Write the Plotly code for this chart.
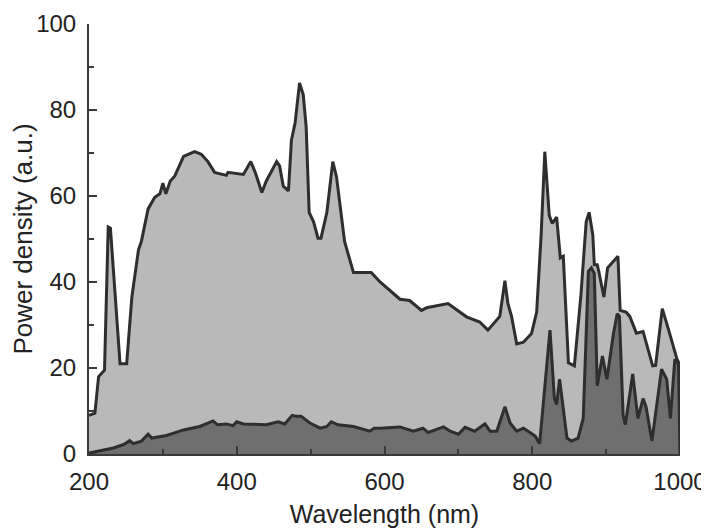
import plotly.graph_objects as go

# Upper (total) spectrum
wl_upper = [200, 208, 213, 221, 226, 229, 235, 242, 251, 258, 267, 271, 280, 289, 296, 300,
            304, 310, 316, 328, 343, 352, 361, 370, 386, 388, 409, 419, 425, 434, 440, 454,
            458, 463, 470, 474, 479, 485, 490, 494, 498, 504, 510, 514, 522, 530, 535, 546,
            558, 582, 594, 621, 634, 650, 657, 686, 711, 729, 740, 749, 756, 763, 767, 772,
            779, 788, 799, 806, 812, 817, 823, 827, 833, 838, 842, 849, 857, 866, 873, 877,
            882, 884, 888, 890, 897, 902, 916, 919, 927, 932, 941, 950, 963, 967, 976, 984,
            991, 996, 999, 1000]
pd_upper = [9, 9.5, 18, 19.5, 52.8, 52.5, 38, 21, 21, 36.5, 47.5, 49.5, 57, 59.7, 60.5, 63,
            60.5, 63.5, 64.6, 69.2, 70.3, 69.7, 68, 65.5, 64.8, 65.5, 65, 68, 65.5, 60.8, 63.5, 68,
            67, 62.3, 61.2, 73, 77, 86.3, 83.6, 76, 56.2, 54, 50.2, 50.2, 56.2, 68, 64.5, 49.4,
            42.2, 42.2, 40, 36, 35.7, 33.4, 34, 35, 31.9, 30.7, 28.8, 30.7, 32, 40.3, 35, 32,
            25.6, 26, 28, 33, 50.9, 70.3, 55.5, 53.6, 55.1, 45.6, 46, 21.2, 20.5, 37.2, 54, 56.2,
            50.9, 44, 44, 42.5, 36.5, 43.3, 46, 33.4, 33, 32, 28.1, 28.5, 20.5, 20.6, 33.8, 29.2,
            25, 22, 21, 0]

# Lower (dark) spectrum
wl_lower = [200, 233, 247, 255, 260, 271, 280, 285, 305, 328, 350, 368, 374, 386, 395, 400,
            409, 440, 456, 465, 475, 480, 487, 499, 513, 522, 528, 537, 558, 580, 586, 594,
            621, 639, 652, 659, 680, 689, 700, 709, 722, 736, 743, 752, 763, 770, 779, 788,
            797, 804, 810, 817, 824, 830, 833, 837, 847, 853, 862, 869, 876, 880, 884, 888,
            895, 901, 910, 915, 918, 923, 926, 936, 943, 950, 954, 962, 975, 982, 987, 993,
            998, 1000]
pd_lower = [0.2, 1.4, 2.2, 3.1, 2.4, 3, 4.6, 3.7, 4.3, 5.6, 6.4, 7.7, 6.8, 7, 6.6, 7.5,
            7, 6.8, 7.5, 7, 9, 8.8, 8.8, 7.2, 6, 6.4, 7.5, 6.8, 6.4, 5.3, 6, 6,
            6.3, 5.3, 6, 5, 6.3, 5.3, 4.6, 6.2, 5.3, 7, 5.3, 5.3, 11, 7.2, 5.3, 6,
            5, 4.2, 2.4, 15.9, 28.8, 12.9, 11.5, 17.4, 3.7, 3, 3.7, 8.3, 42.5, 43.3, 42, 15.9,
            22.8, 17.4, 28.1, 32.6, 32, 9, 6.8, 18.6, 8.3, 12.9, 11, 3, 19.7, 17.4, 8.3, 22,
            21, 0]

x_ticks = [200, 400, 600, 800, 1000]
y_ticks = [0, 20, 40, 60, 80, 100]

LINE = "#2e2e2e"
AX = "#3a3a3a"
FONT = "Liberation Sans, Arial, sans-serif"

fig = go.Figure()
fig.add_trace(go.Scatter(x=wl_upper, y=pd_upper, mode="lines", fill="tozeroy",
                         fillcolor="#b9b9b9", line=dict(color=LINE, width=3),
                         showlegend=False, hoverinfo="skip"))
fig.add_trace(go.Scatter(x=wl_lower, y=pd_lower, mode="lines", fill="tozeroy",
                         fillcolor="#6f6f6f", line=dict(color=LINE, width=3),
                         showlegend=False, hoverinfo="skip"))

# The page body has an 8 px default margin, so the figure is sized/offset to fit the window.
fig.update_layout(
    width=701, height=524,
    margin=dict(l=81, r=29, t=16, b=78),
    paper_bgcolor="white", plot_bgcolor="white",
    font=dict(family=FONT, color="#222222", size=24),
)
fig.update_xaxes(
    range=[200, 1000], tickvals=x_ticks, ticktext=[str(v) for v in x_ticks],
    showgrid=False, zeroline=False, showline=True, linecolor=AX, linewidth=2,
    ticks="inside", ticklen=8, tickwidth=1.5, tickcolor=AX,
    minor=dict(dtick=100, ticks="inside", ticklen=5, tickwidth=1.5, tickcolor=AX),
    tickfont=dict(size=24), ticklabelstandoff=5, automargin=False,
    ticklabeloverflow="allow",
    title=dict(text="Wavelength (nm)", font=dict(size=25), standoff=12),
)
fig.update_yaxes(
    range=[0, 100], tickvals=y_ticks, ticktext=[str(v) for v in y_ticks],
    showgrid=False, zeroline=False, showline=True, linecolor=AX, linewidth=2,
    ticks="inside", ticklen=8, tickwidth=1.5, tickcolor=AX,
    minor=dict(dtick=10, ticks="inside", ticklen=5, tickwidth=1.5, tickcolor=AX),
    tickfont=dict(size=24), ticklabelstandoff=6, automargin=False,
    ticklabeloverflow="allow",
    title=dict(text="Power density (a.u.)", font=dict(size=26), standoff=14),
)

fig.write_html("out.html")
